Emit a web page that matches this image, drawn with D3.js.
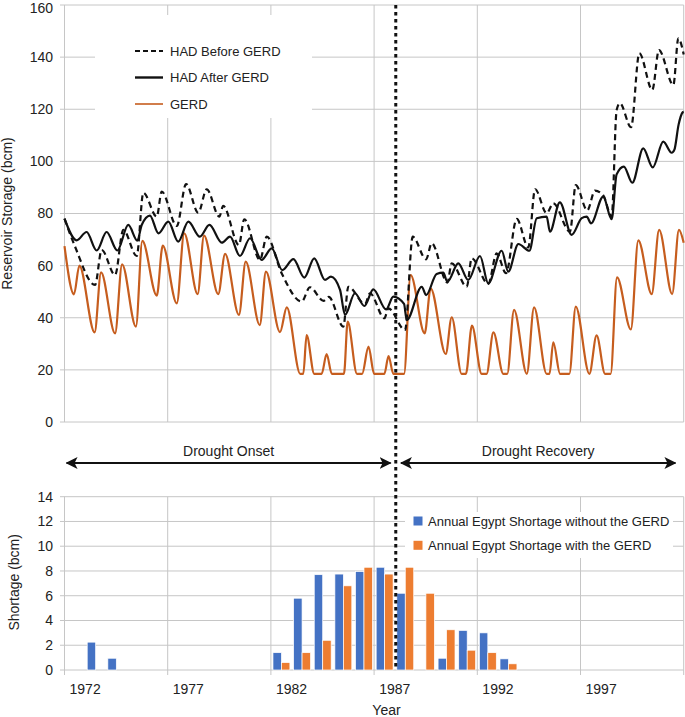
<!DOCTYPE html>
<html>
<head>
<meta charset="utf-8">
<script src="https://cdn.jsdelivr.net/npm/d3@7"></script>
<style>
body { margin: 0; background: #fff; }
svg { font-family: "Liberation Sans", Arial, sans-serif; fill: #222; }
</style>
</head>
<body>
<svg id="chart" width="685" height="717"></svg>
<script>
// ---- data ----
const storageTicks = [0, 20, 40, 60, 80, 100, 120, 140, 160];
const shortageTicks = [0, 2, 4, 6, 8, 10, 12, 14];
const gridYears = [1971, 1976, 1981, 1986, 1991, 1996, 2001];
const labelYears = [1972, 1977, 1982, 1987, 1992, 1997];

// [year, storage bcm] at the turning points of each monthly trace
const hadBefore = [
  [1971.0, 78], [1971.51, 67.3], [1972.48, 52.6], [1972.8, 66], [1973.45, 56.4],
  [1973.85, 73.7], [1974.5, 63.7], [1974.82, 88], [1975.47, 78.8], [1975.71, 88.4],
  [1976.44, 75.2], [1976.89, 91.3], [1977.48, 80.3], [1977.89, 89.3], [1978.5, 78.8],
  [1978.69, 82.9], [1979.45, 67.9], [1979.71, 77.8], [1980.47, 62.2], [1980.8, 71.1],
  [1981.52, 57.1], [1982.49, 46.2], [1982.89, 51.7], [1983.55, 46.5], [1983.8, 48],
  [1984.51, 36.6], [1984.75, 51.9], [1985.56, 45.3], [1985.8, 49.4], [1986.5, 39.8],
  [1986.69, 43.6], [1987.5, 35.3], [1987.87, 71.1], [1988.52, 62.4], [1988.79, 68.6],
  [1989.55, 53.5], [1989.76, 60.9], [1990.49, 51.9], [1990.73, 62.8], [1991.53, 53],
  [1991.94, 64.7], [1992.39, 57.1], [1992.91, 77.9], [1993.47, 67], [1993.8, 89.3],
  [1994.36, 80.1], [1994.68, 83.9], [1995.49, 73], [1995.77, 90.9], [1996.33, 81.2],
  [1996.7, 88.8], [1997.1, 87], [1997.51, 78.8], [1997.75, 119.7], [1997.91, 122.3],
  [1998.45, 113.1], [1998.85, 141.5], [1999.48, 127.4], [1999.8, 142.7], [2000.5, 129.3],
  [2000.74, 147.2], [2001.0, 141]
];

const hadAfter = [
  [1971.0, 78], [1971.59, 69.7], [1972.07, 72.9], [1972.56, 65.8], [1973.04, 72.9],
  [1973.56, 65.8], [1974.09, 75.6], [1974.53, 69.6], [1974.74, 75.6], [1975.14, 79.2],
  [1975.55, 72.4], [1976.03, 76.9], [1976.51, 69.2], [1977.0, 76.9], [1977.56, 71.1],
  [1978.02, 75.6], [1978.62, 68.8], [1979.02, 71.1], [1979.5, 63.7], [1979.99, 70.5],
  [1980.55, 62.2], [1981.04, 66.6], [1981.55, 58.3], [1982.09, 62.5], [1982.62, 55.4],
  [1983.1, 62.8], [1983.62, 54.5], [1983.91, 55.8], [1984.35, 50.7], [1984.59, 41.1],
  [1985.07, 49.4], [1985.53, 44.5], [1985.96, 50.9], [1986.58, 43.2], [1986.93, 48.1],
  [1987.45, 45.3], [1987.58, 39.1], [1988.31, 51.9], [1988.52, 48.7], [1989.03, 56.8],
  [1989.35, 57.3], [1989.55, 53.8], [1990.08, 60.9], [1990.56, 54.5], [1991.13, 63.7],
  [1991.53, 53.2], [1992.18, 65.7], [1992.5, 57.7], [1992.99, 68.3], [1993.52, 65.7],
  [1993.88, 78.2], [1994.36, 78.8], [1994.52, 73], [1995.0, 84.3], [1995.57, 71.8],
  [1996.06, 78.2], [1996.3, 78.8], [1996.51, 76.2], [1997.1, 86.5], [1997.51, 77.8],
  [1997.75, 95], [1998.1, 98], [1998.51, 91.8], [1999.04, 105], [1999.5, 97.7],
  [2000.01, 107.6], [2000.42, 103.3], [2000.55, 104.5], [2000.75, 114], [2000.95, 118.8],
  [2001.0, 119]
];

const gerd = [
  [1971.0, 67.5], [1971.46, 49], [1971.72, 60], [1972.46, 34.4], [1972.77, 57.4],
  [1973.45, 34], [1973.79, 60.5], [1974.46, 36.6], [1974.77, 69.5], [1975.47, 48.5],
  [1975.76, 67.7], [1976.44, 45.5], [1976.8, 72.4], [1977.45, 49.1], [1977.76, 71.5],
  [1978.45, 49.1], [1978.78, 64.5], [1979.45, 41.1], [1979.78, 61.5], [1980.46, 37.2],
  [1980.76, 57.7], [1981.44, 34.5], [1981.77, 44], [1982.42, 18.5], [1982.57, 18.5],
  [1982.73, 33.3], [1983.1, 18.5], [1983.46, 18.5], [1983.7, 26.1], [1983.95, 18.5],
  [1984.54, 18.5], [1984.72, 38.5], [1985.17, 18.5], [1985.42, 18.5], [1985.73, 28.9],
  [1986.0, 18.5], [1986.5, 18.5], [1986.7, 25.3], [1986.93, 18.5], [1987.45, 18.5],
  [1987.77, 56.4], [1988.45, 34], [1988.74, 51.3], [1989.47, 26.1], [1989.76, 40.2],
  [1990.24, 18.5], [1990.45, 18.5], [1990.74, 37], [1991.21, 18.5], [1991.45, 18.5],
  [1991.78, 34.4], [1992.26, 18.5], [1992.45, 18.5], [1992.78, 43], [1993.4, 18.5],
  [1993.75, 44], [1994.36, 18.5], [1994.5, 18.5], [1994.68, 30.6], [1995.01, 18.5],
  [1995.46, 18.5], [1995.77, 44.3], [1996.43, 18.5], [1996.78, 33.2], [1997.19, 18.5],
  [1997.46, 18.5], [1997.77, 55.5], [1998.44, 35.5], [1998.8, 69.7], [1999.45, 49.1],
  [1999.81, 73.7], [2000.44, 49.1], [2000.77, 73.7], [2001.0, 68.8]
];

// annual shortages (bcm)
const shortageYears = [1972, 1973, 1981, 1982, 1983, 1984, 1985, 1986, 1987, 1988, 1989, 1990, 1991, 1992];
const shortageWithout = [2.25, 0.95, 1.4, 5.8, 7.7, 7.75, 7.95, 8.3, 6.2, 0, 0.95, 3.2, 3.0, 0.9];
const shortageWith = [0, 0, 0.6, 1.4, 2.4, 6.8, 8.3, 7.75, 8.3, 6.2, 3.25, 1.6, 1.4, 0.5];

const lineSeries = ['HAD Before GERD', 'HAD After GERD', 'GERD'];
const barSeries = ['Annual Egypt Shortage without the GERD', 'Annual Egypt Shortage with the GERD'];

// ---- scales ----
const svg = d3.select('#chart');
const x = d3.scaleLinear().domain([1971, 2001]).range([64.5, 683.7]);
const yTop = d3.scaleLinear().domain([0, 160]).range([422, 5]);
const yBot = d3.scaleLinear().domain([0, 14]).range([670, 496.7]);
const gridColor = '#c6c6c6';
const orangeLine = '#c65d1e';
const blueBar = '#4472c4';
const orangeBar = '#ed7d31';

// ---- top panel grid ----
const topG = svg.append('g');
topG.selectAll('.hgrid').data(storageTicks).join('line')
  .attr('x1', 60).attr('x2', x(2001))
  .attr('y1', d => yTop(d)).attr('y2', d => yTop(d))
  .attr('stroke', gridColor).attr('stroke-width', 1);
topG.selectAll('.vgrid').data(gridYears).join('line')
  .attr('x1', d => x(d)).attr('x2', d => x(d))
  .attr('y1', yTop(160)).attr('y2', yTop(0))
  .attr('stroke', gridColor).attr('stroke-width', 1);
// top label sits flush with the window edge, so keep it inside
topG.selectAll('.ylab').data(storageTicks).join('text')
  .attr('x', 53).attr('y', d => Math.max(yTop(d), 8.5)).attr('dy', '0.35em')
  .attr('text-anchor', 'end').attr('font-size', 14)
  .text(d => d);
svg.append('text')
  .attr('transform', `translate(12,${(yTop(0) + yTop(160)) / 2}) rotate(-90)`)
  .attr('text-anchor', 'middle').attr('font-size', 14)
  .text('Reservoir Storage (bcm)');

// ---- top panel lines ----
const line = d3.line()
  .x(d => x(d[0])).y(d => yTop(d[1]))
  .curve(d3.curveMonotoneX);
topG.append('path').datum(gerd)
  .attr('d', line).attr('fill', 'none')
  .attr('stroke', orangeLine).attr('stroke-width', 2.2);
topG.append('path').datum(hadBefore)
  .attr('d', line).attr('fill', 'none')
  .attr('stroke', '#111').attr('stroke-width', 2.2).attr('stroke-dasharray', '6,4');
topG.append('path').datum(hadAfter)
  .attr('d', line).attr('fill', 'none')
  .attr('stroke', '#111').attr('stroke-width', 2.2);

// legend (top)
const legT = svg.append('g');
legT.append('rect').attr('x', 95).attr('y', 15).attr('width', 217).attr('height', 103).attr('fill', '#fff');
const legStyles = [
  { color: '#111', dash: '5,3', w: 2.2 },
  { color: '#111', dash: null, w: 2.4 },
  { color: orangeLine, dash: null, w: 1.6 }
];
lineSeries.forEach((name, i) => {
  const yy = 51 + i * 26.5;
  legT.append('line').attr('x1', 135).attr('x2', 163).attr('y1', yy).attr('y2', yy)
    .attr('stroke', legStyles[i].color).attr('stroke-width', legStyles[i].w)
    .attr('stroke-dasharray', legStyles[i].dash);
  legT.append('text').attr('x', 170).attr('y', yy).attr('dy', '0.35em')
    .attr('font-size', 13).text(name);
});

// ---- drought arrows ----
const defs = svg.append('defs');
defs.append('marker').attr('id', 'arr')
  .attr('viewBox', '0 0 12 12').attr('refX', 11).attr('refY', 6)
  .attr('markerWidth', 12).attr('markerHeight', 12)
  .attr('markerUnits', 'userSpaceOnUse').attr('orient', 'auto-start-reverse')
  .append('path').attr('d', 'M0,0 L12,6 L0,12 L3,6 Z').attr('fill', '#111');

const arrowY = 463;
const phases = [
  { name: 'Drought Onset', from: 1971.1, to: 1986.8 },
  { name: 'Drought Recovery', from: 1987.3, to: 2000.6 }
];
phases.forEach(p => {
  svg.append('line').attr('x1', x(p.from)).attr('x2', x(p.to))
    .attr('y1', arrowY).attr('y2', arrowY)
    .attr('stroke', '#111').attr('stroke-width', 2)
    .attr('marker-start', 'url(#arr)').attr('marker-end', 'url(#arr)');
  svg.append('text').attr('x', (x(p.from) + x(p.to)) / 2).attr('y', arrowY - 7)
    .attr('text-anchor', 'middle').attr('font-size', 14).text(p.name);
});

// ---- bottom panel grid ----
const botG = svg.append('g');
botG.selectAll('.hgrid').data(shortageTicks).join('line')
  .attr('x1', 60).attr('x2', x(2001))
  .attr('y1', d => yBot(d)).attr('y2', d => yBot(d))
  .attr('stroke', gridColor).attr('stroke-width', 1);
botG.selectAll('.vgrid').data(gridYears).join('line')
  .attr('x1', d => x(d)).attr('x2', d => x(d))
  .attr('y1', yBot(14)).attr('y2', yBot(0) + 5)
  .attr('stroke', gridColor).attr('stroke-width', 1);
botG.selectAll('.ylab').data(shortageTicks).join('text')
  .attr('x', 53).attr('y', d => yBot(d)).attr('dy', '0.35em')
  .attr('text-anchor', 'end').attr('font-size', 14)
  .text(d => d);
botG.selectAll('.xlab').data(labelYears).join('text')
  .attr('x', d => x(d)).attr('y', 694)
  .attr('text-anchor', 'middle').attr('font-size', 14)
  .text(d => d);
svg.append('text').attr('x', x(1986.6)).attr('y', 715)
  .attr('text-anchor', 'middle').attr('font-size', 14).text('Year');
svg.append('text')
  .attr('transform', `translate(19,${(yBot(0) + yBot(14)) / 2 - 1}) rotate(-90)`)
  .attr('text-anchor', 'middle').attr('font-size', 14)
  .text('Shortage (bcm)');

// bars
const yearW = x(1972) - x(1971);
const x1 = d3.scaleBand().domain(barSeries).range([0.1 * yearW, 0.92 * yearW]);
const barData = shortageYears.map((yr, i) => ({ yr, vals: [shortageWithout[i], shortageWith[i]] }));
const groups = botG.selectAll('.grp').data(barData).join('g')
  .attr('transform', d => `translate(${x(d.yr)},0)`);
groups.selectAll('rect')
  .data(d => d.vals.map((v, k) => ({ key: barSeries[k], v })).filter(e => e.v > 0))
  .join('rect')
  .attr('x', d => x1(d.key)).attr('width', x1.bandwidth())
  .attr('y', d => yBot(d.v)).attr('height', d => yBot(0) - yBot(d.v))
  .attr('fill', d => d.key === barSeries[0] ? blueBar : orangeBar)
  .attr('stroke', '#fff').attr('stroke-width', 0.7);

// legend (bottom)
const legB = svg.append('g');
legB.append('rect').attr('x', 405).attr('y', 512).attr('width', 268).attr('height', 46).attr('fill', '#fff');
barSeries.forEach((name, i) => {
  const yy = 521 + i * 24.3;
  legB.append('rect').attr('x', 413.5).attr('y', yy - 4.5).attr('width', 9).attr('height', 9)
    .attr('fill', i === 0 ? blueBar : orangeBar);
  legB.append('text').attr('x', 428).attr('y', yy).attr('dy', '0.35em')
    .attr('font-size', 13).text(name);
});

// ---- divider between onset and recovery ----
svg.append('line')
  .attr('x1', x(1987.05)).attr('x2', x(1987.05))
  .attr('y1', yTop(160)).attr('y2', yBot(0) - 2)
  .attr('stroke', '#111').attr('stroke-width', 3).attr('stroke-dasharray', '3.5,3.5');
</script>
</body>
</html>
